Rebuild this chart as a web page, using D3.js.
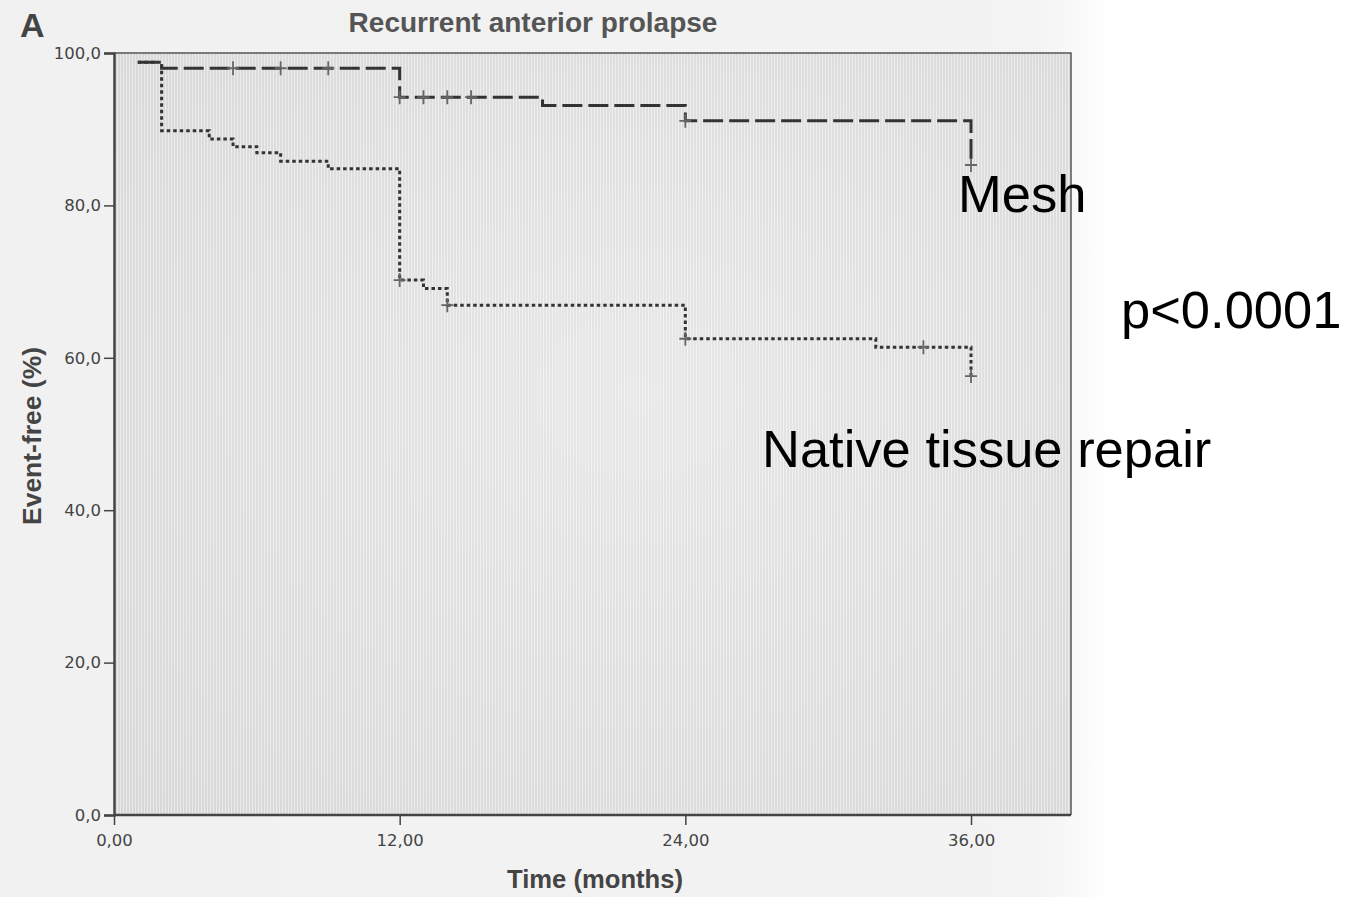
<!DOCTYPE html>
<html>
<head>
<meta charset="utf-8">
<script src="https://cdn.jsdelivr.net/npm/d3@7"></script>
<style>
  body { margin: 0; background: #ffffff; }
  svg { display: block; }
</style>
</head>
<body>
<script>
// Kaplan-Meier steps: time (months) at which the curve steps, and event-free % after it
const meshTimes = [1, 2, 12, 18, 24, 36]
const meshSurv = [98.8, 98.0, 94.2, 93.1, 91.1, 85.3]
const meshCensored = [5, 7, 9, 12, 13, 14, 15, 24, 36]

const nativeTimes = [1, 2, 4, 5, 6, 7, 9, 12, 13, 14, 24, 32, 36]
const nativeSurv = [98.8, 89.8, 88.7, 87.7, 86.9, 85.8, 84.8, 70.2, 69.1, 66.9, 62.5, 61.4, 57.6]
const nativeCensored = [12, 14, 24, 34, 36]

const yTicks = [0, 20, 40, 60, 80, 100]
const xTicks = [0, 12, 24, 36]

const width = 1345, height = 897
const plot = { left: 114, right: 1071, top: 53, bottom: 815 }

const svg = d3.select("body")
  .append("svg")
  .attr("width", width)
  .attr("height", height);

const defs = svg.append("defs");

// scanned page look
const pageGrad = defs.append("linearGradient").attr("id", "page").attr("x1", 0).attr("x2", 1);
pageGrad.append("stop").attr("offset", "0%").attr("stop-color", "#f1f1f1");
pageGrad.append("stop").attr("offset", "93%").attr("stop-color", "#f3f3f3");
pageGrad.append("stop").attr("offset", "100%").attr("stop-color", "#ffffff");

const plotGrad = defs.append("radialGradient").attr("id", "plotbg")
  .attr("cx", "55%").attr("cy", "45%").attr("r", "75%");
plotGrad.append("stop").attr("offset", "0%").attr("stop-color", "#e7e7e7");
plotGrad.append("stop").attr("offset", "100%").attr("stop-color", "#d8d8d8");

const hatch = defs.append("pattern").attr("id", "hatch")
  .attr("patternUnits", "userSpaceOnUse").attr("width", 3).attr("height", 10);
hatch.append("rect").attr("width", 1).attr("height", 10).attr("fill", "rgba(255,255,255,0.45)");

svg.append("rect").attr("x", 0).attr("y", 0).attr("width", 1112).attr("height", height).attr("fill", "url(#page)");

const x = d3.scaleLinear().domain([0, 40.2]).range([plot.left, plot.right]);
const y = d3.scaleLinear().domain([0, 100]).range([plot.bottom, plot.top]);

svg.append("rect")
  .attr("x", plot.left).attr("y", plot.top)
  .attr("width", plot.right - plot.left).attr("height", plot.bottom - plot.top)
  .attr("fill", "url(#plotbg)");
svg.append("rect")
  .attr("x", plot.left).attr("y", plot.top)
  .attr("width", plot.right - plot.left).attr("height", plot.bottom - plot.top)
  .attr("fill", "url(#hatch)");

// frame (top and right)
svg.append("path")
  .attr("d", `M${plot.left},${plot.top}H${plot.right}V${plot.bottom}`)
  .attr("fill", "none").attr("stroke", "#555").attr("stroke-width", 1.5);

const comma = (fmt) => (d) => d3.format(fmt)(d).replace(".", ",");

const yAxis = svg.append("g")
  .attr("transform", `translate(${plot.left},0)`)
  .call(d3.axisLeft(y).tickValues(yTicks).tickFormat(comma(".1f")).tickSize(10).tickPadding(3));

const xAxis = svg.append("g")
  .attr("transform", `translate(0,${plot.bottom})`)
  .call(d3.axisBottom(x).tickValues(xTicks).tickFormat(comma(".2f")).tickSize(10).tickPadding(9));

[yAxis, xAxis].forEach((g) => {
  g.select(".domain").attr("stroke", "#444").attr("stroke-width", 2.5);
  g.selectAll(".tick line").attr("stroke", "#444").attr("stroke-width", 1.5);
  g.selectAll(".tick text")
    .attr("fill", "#444")
    .attr("font-family", "'DejaVu Sans', Verdana, sans-serif")
    .attr("font-size", "16.5px");
});
xAxis.select(".domain").attr("d", `M${plot.left},0H${plot.right}`);

// survival curves
const line = d3.line()
  .x((d) => x(d[0]))
  .y((d) => y(d[1]))
  .curve(d3.curveStepAfter);

const series = [
  { times: meshTimes, surv: meshSurv, censored: meshCensored, dash: "20,6" },
  { times: nativeTimes, surv: nativeSurv, censored: nativeCensored, dash: "3.5,3" }
];

const survAt = (s, t) => {
  let v = s.surv[0];
  s.times.forEach((tt, i) => { if (tt <= t) v = s.surv[i]; });
  return v;
};

series.forEach((s) => {
  const pts = s.times.map((t, i) => [t, s.surv[i]]);
  svg.append("path")
    .datum(pts)
    .attr("d", line)
    .attr("fill", "none")
    .attr("stroke", "#333")
    .attr("stroke-width", 3)
    .attr("stroke-dasharray", s.dash);

  const marks = svg.append("g");
  marks.selectAll("path")
    .data(s.censored)
    .enter()
    .append("path")
    .attr("d", (t) => {
      const cx = x(t), cy = y(survAt(s, t));
      return `M${cx - 6},${cy}H${cx + 6}M${cx},${cy - 7}V${cy + 7}`;
    })
    .attr("stroke", "#666")
    .attr("stroke-width", 1.8)
    .attr("fill", "none");
});

// titles
svg.append("text")
  .attr("x", 20).attr("y", 37)
  .attr("font-family", "'Liberation Sans', Arial, sans-serif")
  .attr("font-weight", "bold").attr("font-size", "34px").attr("fill", "#444")
  .text("A");

svg.append("text")
  .attr("x", 533).attr("y", 32)
  .attr("text-anchor", "middle")
  .attr("font-family", "'Liberation Sans', Arial, sans-serif")
  .attr("font-weight", "bold").attr("font-size", "28px").attr("fill", "#555")
  .text("Recurrent anterior prolapse");

svg.append("text")
  .attr("x", 595).attr("y", 888)
  .attr("text-anchor", "middle")
  .attr("font-family", "'Liberation Sans', Arial, sans-serif")
  .attr("font-weight", "bold").attr("font-size", "25px").attr("fill", "#444")
  .attr("textLength", 176).attr("lengthAdjust", "spacingAndGlyphs")
  .text("Time (months)");

svg.append("text")
  .attr("transform", "translate(41,436) rotate(-90)")
  .attr("text-anchor", "middle")
  .attr("font-family", "'Liberation Sans', Arial, sans-serif")
  .attr("font-weight", "bold").attr("font-size", "25px").attr("fill", "#444")
  .attr("textLength", 178).attr("lengthAdjust", "spacingAndGlyphs")
  .text("Event-free (%)");

// annotations
const notes = [
  { text: "Mesh", x: 958, y: 212 },
  { text: "p<0.0001", x: 1121, y: 328 },
  { text: "Native tissue repair", x: 762, y: 467 }
];
svg.selectAll("text.note")
  .data(notes)
  .enter()
  .append("text")
  .attr("class", "note")
  .attr("x", (d) => d.x)
  .attr("y", (d) => d.y)
  .attr("font-family", "'Liberation Sans', Arial, sans-serif")
  .attr("font-size", "52.5px")
  .attr("fill", "#000")
  .text((d) => d.text);
</script>
</body>
</html>
